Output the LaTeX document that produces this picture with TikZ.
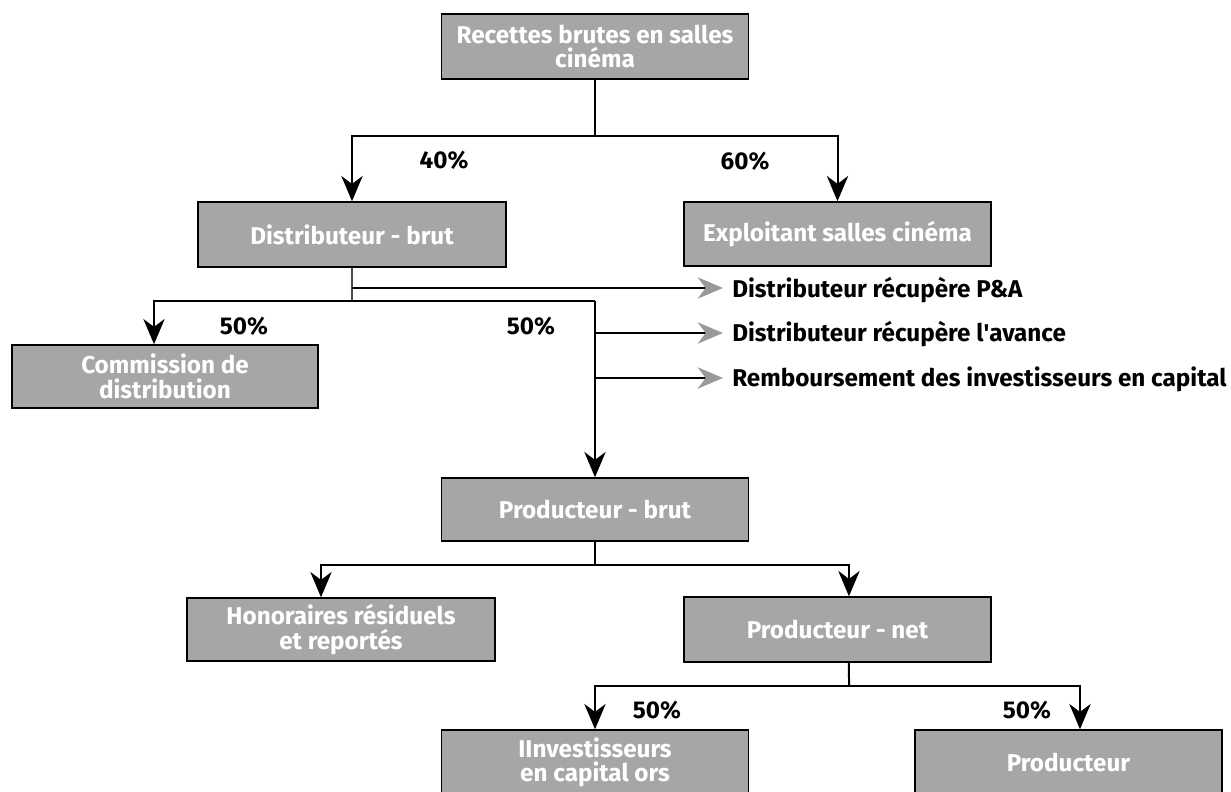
\documentclass[tikz,border=0pt]{standalone}
\usepackage{fontspec}
\setmainfont{Fira Sans}
\usetikzlibrary{arrows.meta,calc}
\definecolor{boxgray}{HTML}{A6A6A6}
\definecolor{tipgray}{HTML}{999999}
\tikzset{
  txt/.style={font=\fontsize{18.2}{18.5}\selectfont\bfseries},
  box/.style={txt, draw=black, line width=1.1pt, fill=boxgray, text=white,
    align=center, inner sep=0pt},
  conn/.style={line width=1.5pt, draw=black},
  arr/.style={conn, -{Stealth[length=19pt,width=16pt,inset=6pt]}},
  garr/.style={conn, -{Stealth[length=19pt,width=16pt,inset=6pt,color=tipgray]}},
  pct/.style={txt, inner sep=0pt},
  side/.style={txt, anchor=west, inner sep=0pt},
}
\begin{document}
\begin{tikzpicture}[x=0.75pt, y=-0.75pt]
\useasboundingbox (0,0) rectangle (1231,792);
\clip (0,0) rectangle (1231,792);
% boxes
\node[box, minimum width=230.25pt, minimum height=48.75pt] (top) at (595,46.5) {Recettes brutes en salles\\cinéma};
\node[box, minimum width=231pt, minimum height=48.75pt] (dist) at (352,234.5) {Distributeur - brut};
\node[box, minimum width=230.25pt, minimum height=48pt] (expl) at (837.5,234) {Exploitant salles cinéma};
\node[box, minimum width=229.5pt, minimum height=47.25pt] (comm) at (165,376.5) {Commission de\\distribution};
\node[box, minimum width=230.25pt, minimum height=47.25pt] (pbrut) at (595,509.5) {Producteur - brut};
\node[box, minimum width=231pt, minimum height=47.25pt] (hon) at (341,629.5) {Honoraires résiduels\\et reportés};
\node[box, minimum width=230.25pt, minimum height=48.75pt] (pnet) at (837.5,629.5) {Producteur - net};
\node[box, minimum width=230.25pt, minimum height=48.75pt] (inv) at (595,762.5) {IInvestisseurs\\en capital ors};
\node[box, minimum width=230.25pt, minimum height=48.75pt] (prod) at (1068.5,762.5) {Producteur};
% side texts
\node[side] (t1) at (732,290) {Distributeur récupère P\&A};
\node[side] (t2) at (732,334) {Distributeur récupère l\textquotesingle avance};
\node[side] (t3) at (732,379) {Remboursement des investisseurs en capital};
% percentages
\node[pct] (p40) at (444,160) {40\%};
\node[pct] (p60) at (745,161) {60\%};
\node[pct] (p50a) at (244,326) {50\%};
\node[pct] (p50b) at (531,326) {50\%};
\node[pct] (p50c) at (657,710) {50\%};
\node[pct] (p50d) at (1027,710) {50\%};
% junction coordinates
\coordinate (j1) at (595,136);
\coordinate (j2) at (352,301);
\coordinate (j2r) at (595,301);
\coordinate (jg) at (352,288);
\coordinate (jb1) at (595,333);
\coordinate (jb2) at (595,378);
\coordinate (j3) at (595,565);
\coordinate (j4) at (849,686);
% connectors
\draw[conn] (top.south) -- (j1);
\draw[arr] (j1) -| (dist.north);
\draw[arr] (j1) -| (expl.north);
\draw[line width=0.8pt, draw=black!70] (dist.south) -- (j2);
\draw[arr] (j2) -| ([xshift=-8.25pt]comm.north);
\draw[conn] (j2) -- (j2r);
\draw[arr] (j2r) -- (pbrut.north);
\draw[garr] (jg) -- ([xshift=-6.75pt]t1.west |- jg);
\draw[garr] (jb1) -- ([xshift=-6.75pt]t2.west |- jb1);
\draw[garr] (jb2) -- ([xshift=-6.75pt]t3.west |- jb2);
\draw[conn] (pbrut.south) -- (j3);
\draw[arr] (j3) -| ([xshift=-15pt]hon.north);
\draw[arr] (j3) -| ([xshift=8.6pt]pnet.north);
\draw[conn] ([xshift=8.6pt]pnet.south) -- (j4);
\draw[arr] (j4) -| (inv.north);
\draw[arr] (j4) -| ([xshift=8.6pt]prod.north);
\end{tikzpicture}
\end{document}
